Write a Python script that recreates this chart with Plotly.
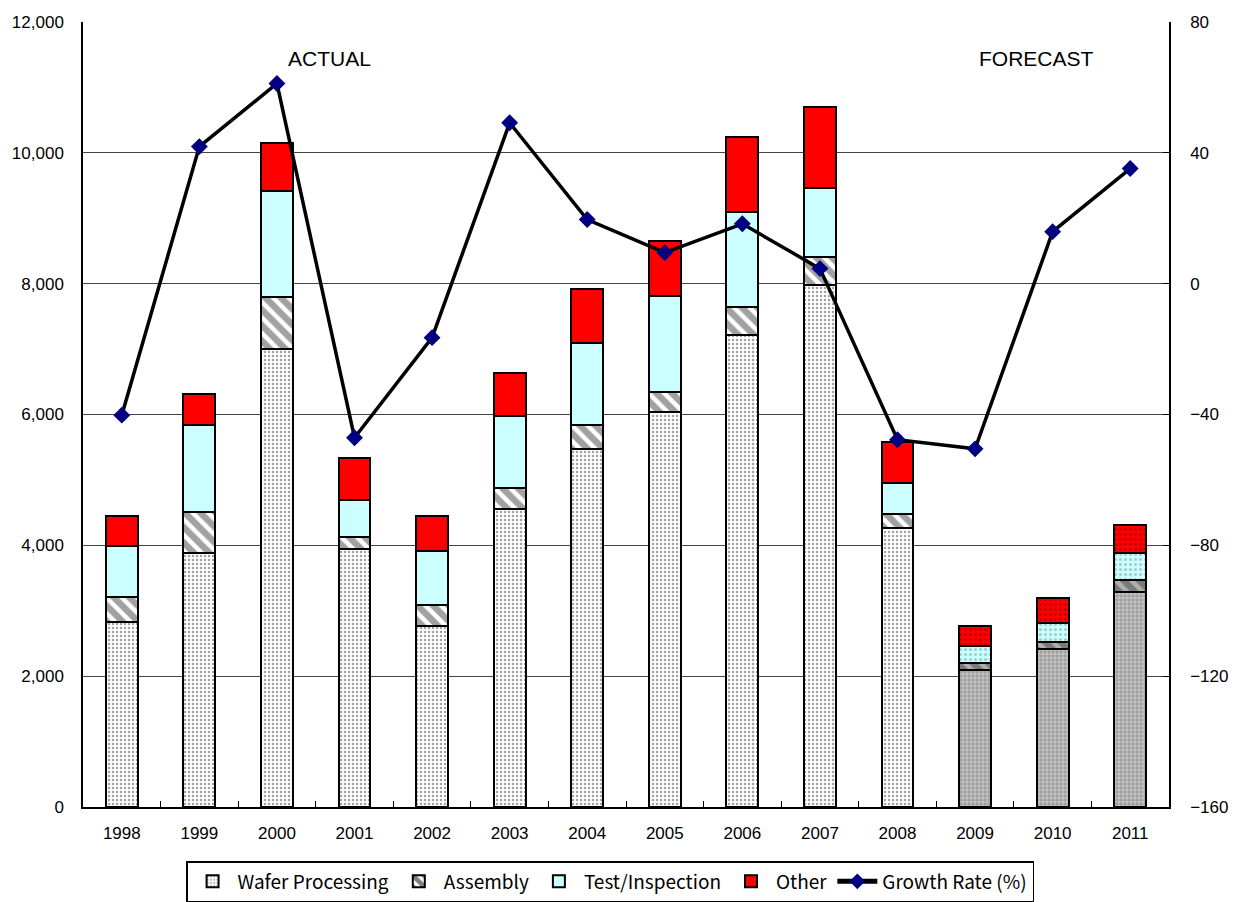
import plotly.graph_objects as go

years = ["1998", "1999", "2000", "2001", "2002", "2003", "2004",
         "2005", "2006", "2007", "2008", "2009", "2010", "2011"]
wafer = [2830, 3880, 7000, 3945, 2770, 4560, 5475, 6040, 7215, 7980, 4265, 2095, 2415, 3285]
assembly = [380, 630, 800, 185, 320, 320, 365, 305, 430, 430, 215, 105, 110, 185]
test_insp = [780, 1330, 1620, 565, 825, 1100, 1255, 1470, 1450, 1055, 475, 260, 290, 415]
other = [460, 475, 735, 640, 535, 660, 825, 840, 1145, 1240, 625, 305, 385, 425]
growth = [-40.2, 41.9, 61.2, -47.1, -16.5, 49.2, 19.6, 9.5, 18.3, 4.6, -47.7, -50.5, 15.9, 35.2]
forecast = [False] * 11 + [True] * 3

FONT = "Liberation Sans, Arial, sans-serif"
LEGEND_FONT = "Noto Sans CJK JP, sans-serif"


def per_bar(actual, fc):
    return [fc if f else actual for f in forecast]


fig = go.Figure()

fig.add_trace(go.Bar(
    name="Wafer Processing", x=years, y=wafer,
    marker=dict(
        color=per_bar("white", "#c4c4c4"),
        line=dict(color="black", width=2),
        pattern=dict(shape=per_bar(".", "+"),
                     fgcolor=per_bar("#666666", "#5a5a5a"),
                     bgcolor=per_bar("white", "#c4c4c4"),
                     size=4, solidity=0.3, fillmode="overlay"),
    ),
))
fig.add_trace(go.Bar(
    name="Assembly", x=years, y=assembly,
    marker=dict(
        color=per_bar("white", "#b0b0b0"),
        line=dict(color="black", width=2),
        pattern=dict(shape="\\",
                     fgcolor=per_bar("black", "#333333"),
                     bgcolor=per_bar("white", "#b0b0b0"),
                     size=11, solidity=0.6, fillmode="overlay"),
    ),
))
fig.add_trace(go.Bar(
    name="Test/Inspection", x=years, y=test_insp,
    marker=dict(
        color="#ccffff",
        line=dict(color="black", width=2),
        pattern=dict(shape=per_bar("", "."),
                     fgcolor="#7a9a9a", bgcolor="#ccffff",
                     size=5, solidity=0.3, fillmode="overlay"),
    ),
))
fig.add_trace(go.Bar(
    name="Other", x=years, y=other,
    marker=dict(
        color="#ff0000",
        line=dict(color="black", width=2),
        pattern=dict(shape=per_bar("", "."),
                     fgcolor="#8a0000", bgcolor="#ff0000",
                     size=5, solidity=0.3, fillmode="overlay"),
    ),
))
fig.add_trace(go.Scatter(
    name="Growth Rate (%)", x=years, y=growth, yaxis="y2",
    mode="lines+markers",
    line=dict(color="black", width=3.5),
    marker=dict(symbol="diamond", size=13, color="#000080",
                line=dict(color="#000080", width=0)),
))

fig.update_layout(
    width=1240, height=902,
    margin=dict(l=81, r=63, t=22, b=95),
    paper_bgcolor="white", plot_bgcolor="white",
    barmode="stack", bargap=0.59,
    font=dict(family=FONT, size=17, color="black"),
    xaxis=dict(
        type="category", range=[-0.5, 13.5],
        showline=True, linecolor="black", linewidth=1.5,
        mirror=False, ticks="inside", tickson="boundaries", ticklen=6,
        tickcolor="black", showgrid=False, ticklabelstandoff=10,
        tickfont=dict(family=FONT, size=17),
    ),
    yaxis=dict(
        range=[0, 12000], dtick=2000, tickformat=",",
        showline=True, linecolor="black", linewidth=1.5,
        showgrid=True, gridcolor="#444444", gridwidth=1,
        ticks="", ticklabelstandoff=14,
        tickfont=dict(family=FONT, size=17), zeroline=False,
    ),
    yaxis2=dict(
        range=[-160, 80], dtick=40, overlaying="y", side="right",
        showline=True, linecolor="black", linewidth=1.5,
        showgrid=False, ticks="inside", ticklen=6, tickcolor="black",
        ticklabelstandoff=16, zeroline=False,
        tickfont=dict(family=FONT, size=17),
    ),
    legend=dict(
        orientation="h", xref="container", yref="container",
        x=0.492, xanchor="center", y=0.0, yanchor="bottom",
        bordercolor="black", borderwidth=1.5, bgcolor="white",
        font=dict(family=LEGEND_FONT, size=19),
        itemsizing="constant", itemwidth=40, tracegroupgap=0,
        traceorder="normal",
    ),
    annotations=[
        dict(text="ACTUAL", x=0.227, y=0.953, xref="paper", yref="paper",
             xanchor="center", yanchor="middle",
             showarrow=False, font=dict(family=FONT, size=21)),
        dict(text="FORECAST", x=0.878, y=0.953, xref="paper", yref="paper",
             xanchor="center", yanchor="middle",
             showarrow=False, font=dict(family=FONT, size=21)),
    ],
)

fig.write_html("out.html")
